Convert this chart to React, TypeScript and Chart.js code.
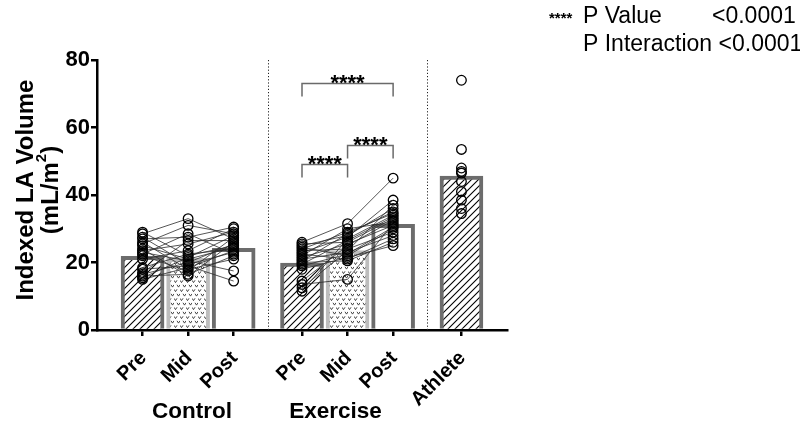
import React, { useEffect, useRef } from 'react';
import { Chart, registerables } from 'chart.js';

Chart.register(...registerables);

// ---------- data ----------
const timepoints = ['Pre', 'Mid', 'Post'];
const groupNames = ['Control', 'Exercise'];
const athleteName = 'Athlete';
const yTickValues = [0, 20, 40, 60, 80];

const controlMeans = [21.8, 21.2, 24.2];
const exerciseMeans = [19.8, 23.5, 31.3];
const athleteMean = 45.6;

const controlPre = [29, 28.5, 27.5, 27, 26, 25.5, 25, 24, 23.5, 23, 22.5, 22, 21, 18.5, 18, 17, 16.5, 16, 15.5, 15];
const controlMid = [22, 33, 19.5, 27.5, 18, 31, 21, 16, 25.5, 20.5, 28.5, 17.5, 23.5, 22.5, 19, 26.5, 20, 16.5, 21.5, 18.5];
const controlPost = [25, 27, 23, 30.5, 21, 28.5, 24.5, 26, 29, 17.5, 22.5, 27.5, 30, 24, 14.5, 26.5, 25.5, 22, 28, 23.5];

const exercisePre = [26, 25.5, 25, 24.5, 24, 23.5, 23, 22.5, 22, 21.5, 21, 20.5, 20, 19.5, 19, 18, 14.5, 13.5, 12.5, 11.5];
const exerciseMid = [31.5, 26, 28, 22, 29, 24, 27.5, 21, 30, 25.5, 23, 28.5, 20.5, 26.5, 22.5, 21.5, 25, 15, 23.5, 27];
const exercisePost = [45, 33, 36, 30, 34.5, 29, 38.5, 27, 32, 31, 28, 35, 26, 33.5, 30.5, 25, 32.5, 31.5, 37, 34];

const athleteValues = [74, 53.5, 48, 47, 46.5, 44, 41, 38.5, 36, 34.5];

const significanceLabel = '****';
// [from timepoint index, to timepoint index, bracket level] within the Exercise group
const exerciseComparisons = [
  [0, 2, 73.2],
  [0, 1, 49.2],
  [1, 2, 54.8],
];
const pValueRows = [
  ['P Value', '<0.0001'],
  ['P Interaction', '<0.0001'],
];

// ---------- layout helpers ----------
const GROUP_STEP = timepoints.length + 0.5;
const posOf = (g: number, t: number) => g * GROUP_STEP + t;
const athletePos = groupNames.length * GROUP_STEP;

const FONT = '"Liberation Sans", Arial, Helvetica, sans-serif';
const DARK_BORDER = '#6c6c6c';
const LIGHT_BORDER = '#bdbdbd';

function makeHatch(): CanvasPattern | string {
  const s = 7;
  const c = document.createElement('canvas');
  c.width = s;
  c.height = s;
  const g = c.getContext('2d');
  if (!g) return '#fff';
  g.fillStyle = '#fff';
  g.fillRect(0, 0, s, s);
  g.strokeStyle = '#000';
  g.lineWidth = 1.1;
  g.beginPath();
  g.moveTo(-1, s + 1);
  g.lineTo(s + 1, -1);
  g.moveTo(-1, 1);
  g.lineTo(1, -1);
  g.moveTo(s - 1, s + 1);
  g.lineTo(s + 1, s - 1);
  g.stroke();
  return g.createPattern(c, 'repeat') || '#fff';
}

function makeVees(): CanvasPattern | string {
  const w = 6;
  const h = 9;
  const c = document.createElement('canvas');
  c.width = w;
  c.height = h;
  const g = c.getContext('2d');
  if (!g) return '#fff';
  g.fillStyle = '#fff';
  g.fillRect(0, 0, w, h);
  g.strokeStyle = '#333';
  g.lineWidth = 0.9;
  const v = (x: number, y: number) => {
    g.moveTo(x - 1.5, y - 1.2);
    g.lineTo(x, y + 1.1);
    g.lineTo(x + 1.5, y - 1.2);
  };
  g.beginPath();
  v(1.5, 2.5);
  v(4.5, 7);
  g.stroke();
  return g.createPattern(c, 'repeat') || '#fff';
}

const annotations = {
  id: 'annotations',
  beforeDatasetsDraw(chart: any) {
    const { ctx, scales } = chart;
    const x = scales.x;
    const y = scales.y;
    const seps = [
      (posOf(0, timepoints.length - 1) + posOf(1, 0)) / 2,
      (posOf(1, timepoints.length - 1) + athletePos) / 2,
    ];
    ctx.save();
    ctx.strokeStyle = '#222';
    ctx.lineWidth = 1;
    ctx.setLineDash([1.2, 2]);
    seps.forEach((v) => {
      const px = Math.round(x.getPixelForValue(v)) + 0.5;
      ctx.beginPath();
      ctx.moveTo(px, y.getPixelForValue(80));
      ctx.lineTo(px, y.getPixelForValue(0));
      ctx.stroke();
    });
    ctx.restore();
  },
  afterDraw(chart: any) {
    const { ctx, scales } = chart;
    const x = scales.x;
    const y = scales.y;
    ctx.save();

    // significance brackets
    ctx.strokeStyle = '#6a6a6a';
    ctx.lineWidth = 1.5;
    exerciseComparisons.forEach(([a, b, lvl]) => {
      const x1 = x.getPixelForValue(posOf(1, a));
      const x2 = x.getPixelForValue(posOf(1, b));
      const py = Math.round(y.getPixelForValue(lvl)) + 0.5;
      ctx.beginPath();
      ctx.moveTo(x1, py + 13);
      ctx.lineTo(x1, py);
      ctx.lineTo(x2, py);
      ctx.lineTo(x2, py + 13);
      ctx.stroke();
      ctx.fillStyle = '#000';
      ctx.font = `bold 22px ${FONT}`;
      ctx.textAlign = 'center';
      ctx.textBaseline = 'alphabetic';
      ctx.fillText(significanceLabel, (x1 + x2) / 2, py + 6);
    });

    // rotated x tick labels
    ctx.fillStyle = '#000';
    ctx.font = `bold 20px ${FONT}`;
    ctx.textAlign = 'right';
    ctx.textBaseline = 'middle';
    const xLabels: [number, string][] = [];
    groupNames.forEach((_, g) => timepoints.forEach((t, i) => xLabels.push([posOf(g, i), t])));
    xLabels.push([athletePos, athleteName]);
    xLabels.forEach(([v, t]) => {
      ctx.save();
      ctx.translate(x.getPixelForValue(v) + 1, 355);
      ctx.rotate(-Math.PI / 4);
      ctx.fillText(t, 0, 0);
      ctx.restore();
    });

    // group labels
    ctx.font = `bold 22.5px ${FONT}`;
    ctx.textAlign = 'center';
    ctx.textBaseline = 'middle';
    const groupShift = [4, -12];
    groupNames.forEach((name, g) => {
      ctx.fillText(name, x.getPixelForValue(posOf(g, 1)) + groupShift[g], 412);
    });

    // y-axis title
    const cy = (y.top + y.bottom) / 2 - 5;
    ctx.save();
    ctx.translate(26, cy);
    ctx.rotate(-Math.PI / 2);
    ctx.font = `bold 24px ${FONT}`;
    ctx.textAlign = 'center';
    ctx.textBaseline = 'middle';
    ctx.fillText('Indexed LA Volume', 0, 0);
    ctx.restore();

    ctx.save();
    ctx.translate(51, cy);
    ctx.rotate(-Math.PI / 2);
    ctx.textBaseline = 'middle';
    ctx.textAlign = 'left';
    const big = `bold 24px ${FONT}`;
    const small = `bold 15px ${FONT}`;
    ctx.font = big;
    const w1 = ctx.measureText('(mL/m').width;
    const w3 = ctx.measureText(')').width;
    ctx.font = small;
    const w2 = ctx.measureText('2').width;
    let sx = -(w1 + w2 + w3) / 2;
    ctx.font = big;
    ctx.fillText('(mL/m', sx, 0);
    sx += w1;
    ctx.font = small;
    ctx.fillText('2', sx, -9);
    sx += w2;
    ctx.font = big;
    ctx.fillText(')', sx, 0);
    ctx.restore();

    // top-right p-value note
    ctx.textAlign = 'left';
    ctx.textBaseline = 'alphabetic';
    ctx.font = `bold 15px ${FONT}`;
    ctx.fillText(significanceLabel, 549, 23);
    ctx.font = `23px ${FONT}`;
    ctx.fillText(pValueRows[0][0], 583, 23);
    ctx.fillText(pValueRows[0][1], 712, 23);
    ctx.fillText(pValueRows[1][0] + ' ' + pValueRows[1][1], 583, 51);

    ctx.restore();
  },
};

export default function App() {
  const ref = useRef<HTMLCanvasElement | null>(null);

  useEffect(() => {
    if (!ref.current) return;
    const hatch = makeHatch();
    const vees = makeVees();
    const fills = [hatch, vees, '#ffffff'];
    const borders = [DARK_BORDER, LIGHT_BORDER, DARK_BORDER];

    const barData: { x: number; y: number }[] = [];
    const barFill: any[] = [];
    const barBorder: string[] = [];
    [controlMeans, exerciseMeans].forEach((means, g) => {
      means.forEach((m, i) => {
        barData.push({ x: posOf(g, i), y: m });
        barFill.push(fills[i]);
        barBorder.push(borders[i]);
      });
    });
    barData.push({ x: athletePos, y: athleteMean });
    barFill.push(hatch);
    barBorder.push(DARK_BORDER);

    const pointStyle = {
      pointRadius: 4.8,
      pointBorderWidth: 1.3,
      pointBorderColor: '#000',
      pointBackgroundColor: 'rgba(255,255,255,0)',
      pointHoverRadius: 4.8,
    };

    const subjectSets: any[] = [];
    [
      [controlPre, controlMid, controlPost],
      [exercisePre, exerciseMid, exercisePost],
    ].forEach((series, g) => {
      series[0].forEach((_, s) => {
        subjectSets.push({
          type: 'line',
          data: series.map((arr, t) => ({ x: posOf(g, t), y: arr[s] })),
          borderColor: '#2b2b2b',
          borderWidth: 0.8,
          tension: 0,
          order: 1,
          ...pointStyle,
        });
      });
    });

    const chart = new Chart(ref.current, {
      type: 'bar',
      data: {
        datasets: [
          {
            type: 'bar',
            data: barData,
            backgroundColor: barFill,
            borderColor: barBorder,
            borderWidth: 4,
            borderSkipped: 'bottom',
            barThickness: 43,
            order: 10,
          } as any,
          ...subjectSets,
          {
            type: 'line',
            data: athleteValues.map((v) => ({ x: athletePos, y: v })),
            showLine: false,
            order: 1,
            ...pointStyle,
          },
        ],
      },
      options: {
        responsive: false,
        animation: false,
        devicePixelRatio: 1,
        layout: { padding: { top: 60, right: 293, bottom: 75, left: 0 } },
        plugins: { legend: { display: false }, tooltip: { enabled: false } },
        scales: {
          x: {
            type: 'linear',
            min: -1,
            max: athletePos + 1,
            offset: false,
            afterBuildTicks: (s: any) => {
              const vals: number[] = [];
              groupNames.forEach((_, g) => timepoints.forEach((__, i) => vals.push(posOf(g, i))));
              vals.push(athletePos);
              s.ticks = vals.map((v) => ({ value: v }));
            },
            afterFit: (s: any) => {
              s.height = 20;
            },
            ticks: { display: false },
            grid: {
              offset: false,
              drawOnChartArea: false,
              drawTicks: true,
              tickLength: 6,
              color: '#000',
              lineWidth: 2.5,
            },
            border: { display: true, color: '#000', width: 2.5 },
          },
          y: {
            type: 'linear',
            min: 0,
            max: 80,
            afterBuildTicks: (s: any) => {
              s.ticks = yTickValues.map((v) => ({ value: v }));
            },
            afterFit: (s: any) => {
              s.width = 97;
            },
            ticks: {
              color: '#000',
              padding: 1,
              font: { family: FONT, size: 22, weight: 'bold' },
            },
            grid: {
              drawOnChartArea: false,
              drawTicks: true,
              tickLength: 6,
              color: '#000',
              lineWidth: 2.5,
            },
            border: { display: true, color: '#000', width: 2.5 },
          },
        },
      } as any,
      plugins: [annotations],
    });

    return () => chart.destroy();
  }, []);

  return (
    <div style={{ position: 'fixed', left: 0, top: 0, width: 800, height: 425, background: '#fff' }}>
      <canvas ref={ref} width={800} height={425} style={{ display: 'block', width: 800, height: 425 }} />
    </div>
  );
}
